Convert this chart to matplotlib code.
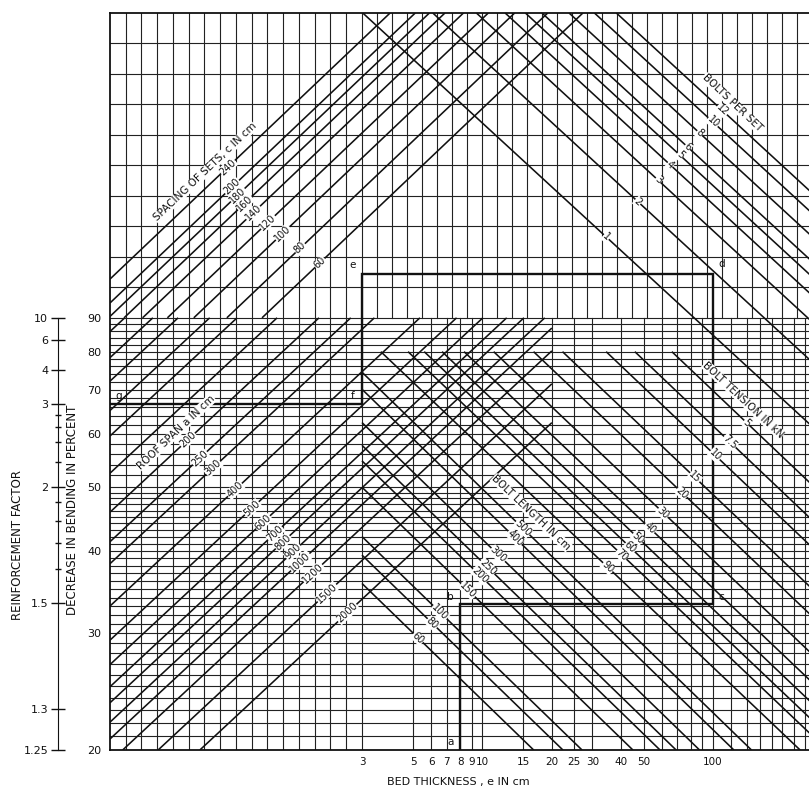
import numpy as np
import matplotlib
matplotlib.use("Agg")
import matplotlib.pyplot as plt

# ---- scales ----
bed_labels = [3, 5, 6, 7, 8, 9, 10, 15, 20, 25, 30, 40, 50, 100]
bed_grid = [5, 6, 7, 8, 9, 10, 15, 20, 25, 30, 40, 50, 60, 70, 80, 90, 100,
            120, 140, 160, 180, 200, 225, 250]
pct_labels = [20, 30, 40, 50, 60, 70, 80, 90]
pct_grid = list(range(21, 50)) + list(range(50, 91, 2))
rf_labels = [1.25, 1.3, 1.5, 2, 3, 4, 6, 10]
rf_minor = [1.6, 1.7, 1.8, 1.9, 2.2, 2.4, 2.6, 2.8]

# ---- line families: value + where its label sits (fraction of the frame) ----
spacing_c = [240, 200, 180, 160, 140, 120, 100, 80, 60]
spacing_fx = [0.168, 0.174, 0.182, 0.192, 0.204, 0.225, 0.246, 0.271, 0.299]
spacing_fy = [0.791, 0.764, 0.753, 0.742, 0.729, 0.716, 0.701, 0.681, 0.661]

bolts_n = [12, 10, 8, 6, 5, 4, 3, 2, 1]
bolts_fx = [0.872, 0.859, 0.840, 0.823, 0.812, 0.798, 0.781, 0.752, 0.707]
bolts_fy = [0.868, 0.852, 0.837, 0.818, 0.807, 0.794, 0.773, 0.744, 0.696]

span_a = [200, 250, 300, 400, 500, 600, 700, 800, 900, 1000, 1200, 1500, 2000]
span_fx = [0.111, 0.128, 0.147, 0.178, 0.202, 0.218, 0.235, 0.246, 0.261,
           0.271, 0.289, 0.309, 0.338]
span_fy = [0.421, 0.396, 0.383, 0.353, 0.328, 0.309, 0.294, 0.282, 0.269,
           0.255, 0.240, 0.213, 0.186]
span_extra_fx = [0.021, 0.061, 0.097, 0.142, 0.181, 0.238]  # unlabelled, on the 90 % line

length_l = [500, 400, 300, 250, 200, 150, 100, 80, 60]
length_fx = [0.588, 0.577, 0.553, 0.538, 0.527, 0.510, 0.470, 0.459, 0.439]
length_fy = [0.301, 0.288, 0.265, 0.248, 0.237, 0.217, 0.187, 0.172, 0.152]

tension_t = [5, 7.5, 10, 15, 20, 30, 40, 50, 60, 70, 90]
tension_fx = [0.907, 0.883, 0.862, 0.833, 0.815, 0.788, 0.769, 0.752, 0.741, 0.729, 0.709]
tension_fy = [0.444, 0.418, 0.400, 0.370, 0.349, 0.322, 0.301, 0.288, 0.275, 0.265, 0.248]

# worked example a-b-c-d-e-f-g (bed thickness, percent)
path_e = [8, 8, 100, 100, 3, 3, 0.242]
path_p = [20, 33.3, 33.3, 105, 105, 66.7, 66.7]
path_names = ['a', 'b', 'c', 'd', 'e', 'f', 'g']
path_off = [(-7, 6), (-7, 5), (6, 5), (6, 7), (-7, 6), (-7, 6), (6, 6)]

W, H = 809, 790
ink = '#111111'
fig = plt.figure(figsize=(W / 100, H / 100), dpi=100)
ax = fig.add_axes([110 / W, 40 / H, 702 / W, 737 / H])
ax.set_xscale('log')
ax.set_yscale('log')
ax.set_xlim(0.242, 269)
ax.set_ylim(20, 260)
x0, x1 = ax.get_xlim()
y0, y1 = ax.get_ylim()

gkw = dict(color='#222222', lw=0.8, zorder=1)
# left column: even spacing, full height
for x in np.geomspace(x0, 3, 17)[1:]:
    ax.plot([x, x], [y0, y1], **gkw)
# upper part: even spacing
for x in np.geomspace(3, x1, 31)[1:]:
    ax.plot([x, x], [90, y1], **gkw)
for p in np.geomspace(90, y1, 11)[1:-1]:
    ax.plot([x0, x1], [p, p], **gkw)
# lower part: bed thickness and percent
for x in bed_grid:
    ax.plot([x, x], [y0, 90], **gkw)
for p in pct_grid:
    ax.plot([x0, x1], [p, p], **gkw)

pos = ax.get_position()
aspect = (pos.width * W) / (pos.height * H)


def frac(x, p):
    return ax.transAxes.inverted().transform(ax.transData.transform((x, p)))


def clip(fx, fy, s, box):
    bx0, bx1, by0, by1 = box
    lo, hi = bx0 - fx, bx1 - fx
    t0, t1 = (by0 - fy) / s, (by1 - fy) / s
    lo = max(lo, min(t0, t1))
    hi = min(hi, max(t0, t1))
    return [fx + lo, fx + hi], [fy + s * lo, fy + s * hi]


def family(fxs, fys, slope, box, values=None, size=7):
    s = slope * aspect
    ang = np.degrees(np.arctan(slope))
    for i in range(len(fxs)):
        xs, ys = clip(fxs[i], fys[i], s, box)
        ax.plot(xs, ys, transform=ax.transAxes, color=ink, lw=1.15, zorder=2,
                solid_capstyle='butt')
        if values is not None:
            ax.text(fxs[i], fys[i], '{:g}'.format(values[i]), transform=ax.transAxes,
                    rotation=ang, rotation_mode='anchor', ha='center', va='center',
                    fontsize=size, color=ink, zorder=4,
                    bbox=dict(fc='white', ec='none', pad=0.2))


fx3 = frac(3, 20)[0]
fx20 = frac(20, 20)[0]
fy90 = frac(1, 90)[1]
fy80 = frac(1, 80)[1]

family(spacing_fx, spacing_fy, 0.95, (0, 1, fy90, 1), spacing_c)
family(bolts_fx, bolts_fy, -0.92, (fx3, 1, 0, 1), bolts_n)
family(span_fx, span_fy, 0.93, (0, fx20, 0, fy90), span_a)
family(span_extra_fx, [fy90] * len(span_extra_fx), 0.93, (0, fx20, 0, fy90))
family(length_fx, length_fy, -0.97, (fx3, 1, 0, fy80), length_l)
family(tension_fx, tension_fy, -0.95, (fx3, 1, 0, fy80), tension_t)

tkw = dict(transform=ax.transAxes, ha='center', va='center', fontsize=7.5, color=ink,
           rotation_mode='anchor', zorder=4, bbox=dict(fc='white', ec='none', pad=0.2))
ax.text(0.135, 0.784, 'SPACING OF SETS, c IN cm', rotation=43.5, **tkw)
ax.text(0.886, 0.878, 'BOLTS PER SET', rotation=-43.5, **tkw)
ax.text(0.094, 0.431, 'ROOF SPAN a IN cm', rotation=43.5, **tkw)
ax.text(0.600, 0.322, 'BOLT LENGTH IN cm', rotation=-43.5, **tkw)
ax.text(0.902, 0.475, 'BOLT TENSION IN kN', rotation=-43, **tkw)

# example path
ax.plot(path_e, path_p, color=ink, lw=1.7, zorder=3, solid_joinstyle='miter')
for i in range(len(path_names)):
    ax.annotate(path_names[i], (path_e[i], path_p[i]), xytext=path_off[i],
                textcoords='offset points', ha='center', va='center',
                fontsize=7.5, color=ink, zorder=5)

# axes
ax.set_xticks(bed_labels)
ax.set_xticklabels(['{:g}'.format(v) for v in bed_labels])
ax.set_xticks([], minor=True)
ax.set_yticks(pct_labels)
ax.set_yticklabels(['{:g}'.format(v) for v in pct_labels])
ax.set_yticks([], minor=True)
ax.tick_params(axis='x', length=0, pad=5, labelsize=7.5, colors=ink)
ax.tick_params(axis='y', length=0, pad=6, labelsize=8, colors=ink)
for side in ['left', 'bottom', 'top']:
    ax.spines[side].set_linewidth(1.3)
    ax.spines[side].set_color(ink)
ax.spines['right'].set_visible(False)

# reinforcement factor scale
rax = fig.add_axes([58 / W, 40 / H, 0.0001, 737 / H])
rax.set_yscale('log')
rax.set_ylim(20, 260)
rax.patch.set_visible(False)
for side in ['right', 'bottom', 'top']:
    rax.spines[side].set_visible(False)
rax.spines['left'].set_bounds(20, 90)
rax.spines['left'].set_color(ink)
rax.set_xticks([])
rax.set_yticks([100 * (1 - 1 / f) for f in rf_labels])
rax.set_yticklabels(['{:g}'.format(f) for f in rf_labels])
rax.set_yticks([100 * (1 - 1 / f) for f in rf_minor], minor=True)
rax.yaxis.set_minor_formatter(matplotlib.ticker.NullFormatter())
rax.tick_params(axis='y', which='major', direction='inout', length=10, width=1,
                pad=2, labelsize=8, colors=ink)
rax.tick_params(axis='y', which='minor', direction='inout', length=5, width=1, colors=ink)

fig.text(18 / W, 1 - 545 / H, 'REINFORCEMENT FACTOR', rotation=90, ha='center',
         va='center', fontsize=8.5, color=ink)
fig.text(72 / W, 1 - 510 / H, 'DECREASE IN BENDING IN PERCENT', rotation=90,
         ha='center', va='center', fontsize=8.5, color=ink)
fig.text(458 / W, 1 - 782 / H, 'BED THICKNESS , e IN cm', ha='center', va='center',
         fontsize=8, color=ink)

fig.savefig('out.png', dpi=100, facecolor='white')
